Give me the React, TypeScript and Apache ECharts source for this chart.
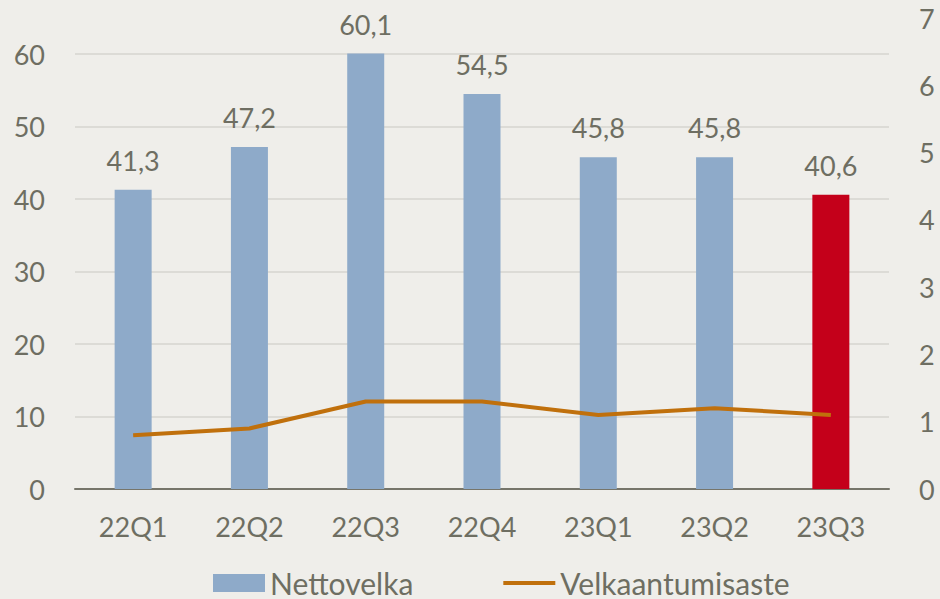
import React, { useEffect, useRef } from "react";
import * as echarts from "echarts";

const categories = ["22Q1", "22Q2", "22Q3", "22Q4", "23Q1", "23Q2", "23Q3"];
const nettovelka = [41.3, 47.2, 60.1, 54.5, 45.8, 45.8, 40.6];
const velkaantumisaste = [0.8, 0.9, 1.3, 1.3, 1.1, 1.2, 1.1];
const gridValues = [10, 20, 30, 40, 50, 60];
const highlightIndex = 6;

const TEXT = "#6e6e62";
const FONT = "Lato";
const FS = 27;

export default function App() {
  const ref = useRef<HTMLDivElement>(null);
  useEffect(() => {
    if (!ref.current) return;
    const chart = echarts.init(ref.current, undefined, { renderer: "svg" });
    chart.setOption({
      animation: false,
      backgroundColor: "#efeeea",
      textStyle: { fontFamily: FONT },
      grid: { left: 75, right: 51, top: 18, bottom: 110, containLabel: false },
      legend: {
        left: 213,
        top: 568,
        padding: 0,
        itemWidth: 52,
        itemHeight: 18,
        itemGap: 88,
        textStyle: { color: TEXT, fontSize: 30, fontFamily: FONT },
        data: [
          { name: "Nettovelka", icon: "rect" },
          {
            name: "Velkaantumisaste",
            itemStyle: { opacity: 0 },
            lineStyle: { width: 4, color: "#c0700c" },
          },
        ],
      },
      xAxis: {
        type: "category",
        data: categories,
        axisLine: { lineStyle: { color: "#76756a", width: 2 } },
        axisTick: { show: false },
        axisLabel: { color: TEXT, fontSize: FS, fontFamily: FONT, margin: 24 },
      },
      yAxis: [
        {
          type: "value",
          min: 0,
          max: 65,
          interval: 10,
          axisLine: { show: false },
          axisTick: { show: false },
          splitLine: { show: false },
          axisLabel: {
            color: TEXT,
            fontSize: FS,
            fontFamily: FONT,
            margin: 30,
            showMaxLabel: false,
            formatter: (v: number) => (v % 10 === 0 ? String(v) : ""),
          },
        },
        {
          type: "value",
          min: 0,
          max: 7,
          interval: 1,
          axisLine: { show: false },
          axisTick: { show: false },
          splitLine: { show: false },
          axisLabel: { color: TEXT, fontSize: FS, fontFamily: FONT, margin: 30 },
        },
      ],
      series: [
        {
          name: "Nettovelka",
          type: "bar",
          yAxisIndex: 0,
          barWidth: 37,
          itemStyle: { color: "#8eaac9" },
          data: nettovelka.map((v, i) =>
            i === highlightIndex ? { value: v, itemStyle: { color: "#c4001a" } } : v
          ),
          label: {
            show: true,
            position: "top",
            distance: 16,
            color: TEXT,
            fontSize: FS,
            fontFamily: FONT,
            formatter: (p: any) => String(p.value).replace(".", ","),
          },
          markLine: {
            silent: true,
            symbol: "none",
            label: { show: false },
            lineStyle: { color: "#d6d5cf", width: 1.5, type: "solid" },
            data: gridValues.map((v) => ({ yAxis: v })),
            z: 0,
          },
          z: 2,
        },
        {
          name: "Velkaantumisaste",
          type: "line",
          yAxisIndex: 1,
          data: velkaantumisaste,
          symbol: "none",
          lineStyle: { color: "#c0700c", width: 4 },
          itemStyle: { color: "#c0700c" },
          z: 3,
        },
      ],
    });
    return () => chart.dispose();
  }, []);
  return (
    <div
      ref={ref}
      style={{ position: "fixed", left: 0, top: 0, width: 940, height: 599 }}
    />
  );
}
